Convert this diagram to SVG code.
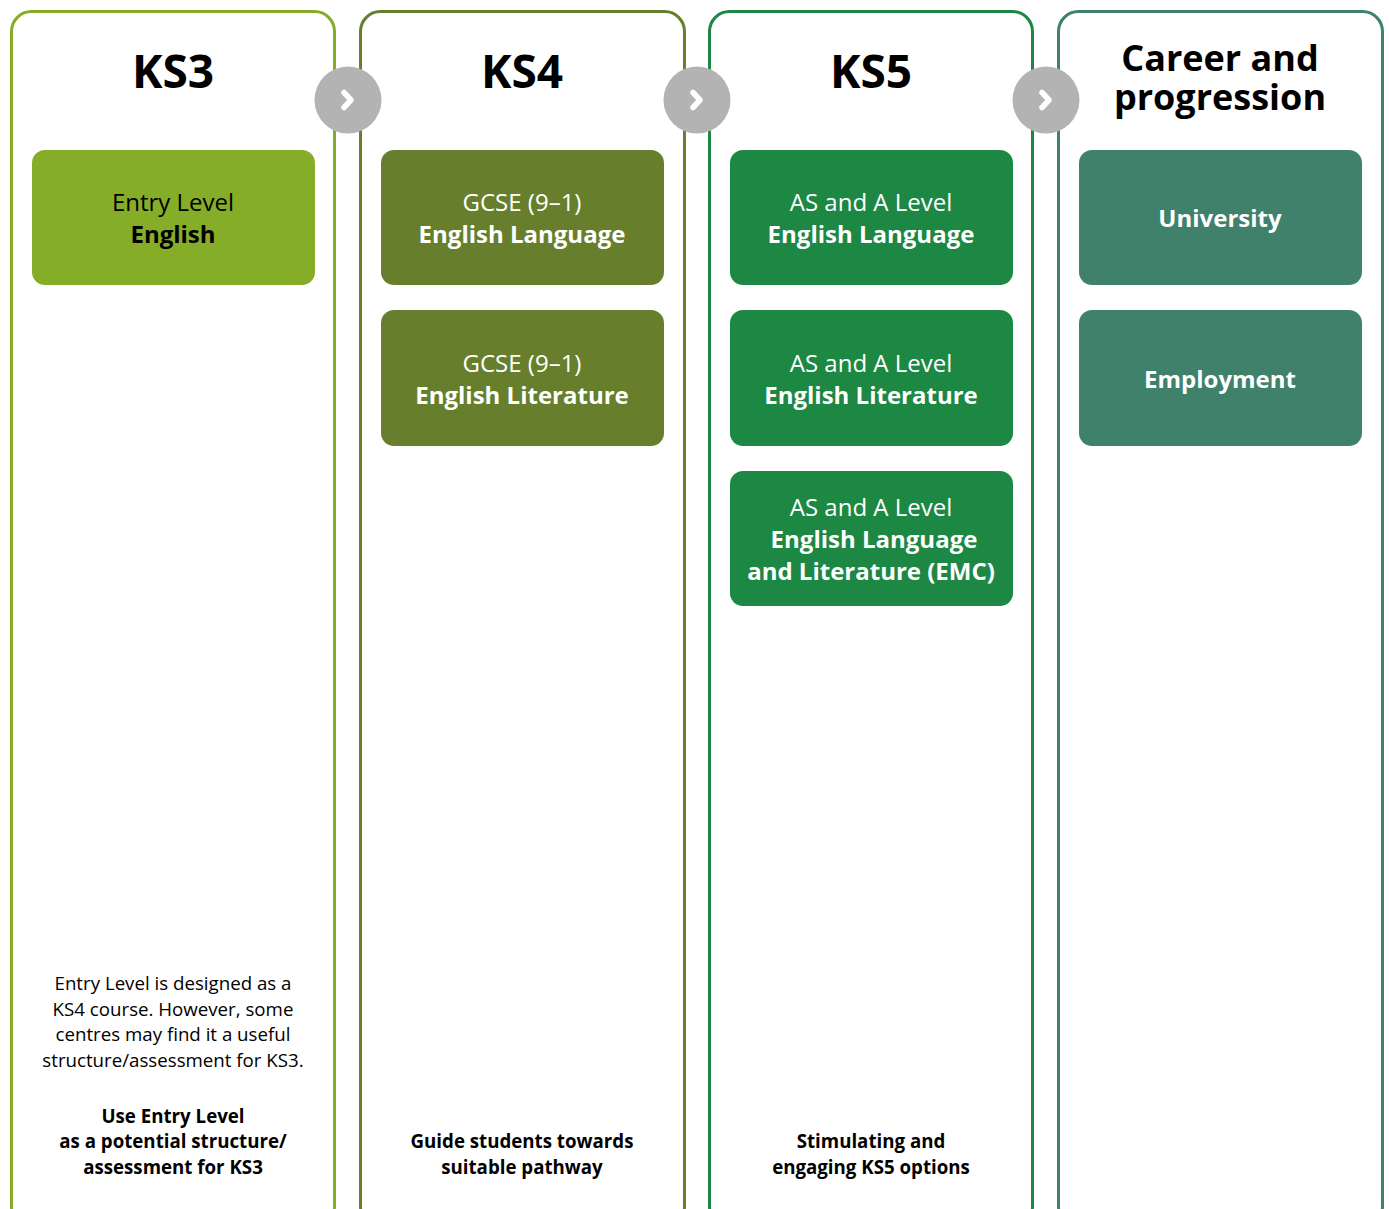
<svg xmlns="http://www.w3.org/2000/svg" width="1389" height="1209" viewBox="0 0 1389 1209">
<defs>
<style>
.frame{fill:#fff;stroke-width:3}
.hdr{font-family:"Open Sans","Noto Sans",sans-serif;font-weight:700;fill:#000;text-anchor:middle}
.bx{font-family:"Open Sans","Noto Sans",sans-serif;font-size:24px;text-anchor:middle}
.b{font-weight:700}
.note{font-family:"Open Sans","Noto Sans",sans-serif;font-size:18.7px;fill:#000;text-anchor:middle}
.arrow circle{fill:#b3b3b3}
.arrow path{fill:none;stroke:#fff;stroke-width:5.5;stroke-linecap:round;stroke-linejoin:round}
</style>
</defs>
<g id="columns">
<rect class="frame" x="11.5" y="11.5" width="323" height="1215" rx="20" stroke="#86ad28"/>
<rect class="frame" x="360.5" y="11.5" width="324" height="1215" rx="20" stroke="#677f2c"/>
<rect class="frame" x="709.5" y="11.5" width="323" height="1215" rx="20" stroke="#1d8744"/>
<rect class="frame" x="1058.5" y="11.5" width="324" height="1215" rx="20" stroke="#3f816b"/>
</g>
<g id="headers">
<text class="hdr" x="173" y="88" font-size="46">KS3</text>
<text class="hdr" x="522" y="88" font-size="46">KS4</text>
<text class="hdr" x="871" y="88" font-size="46">KS5</text>
<text class="hdr" font-size="36"><tspan x="1220" y="71">Career and</tspan><tspan x="1220" y="110">progression</tspan></text>
</g>
<g id="connectors">
<g class="arrow"><circle cx="348" cy="100" r="33.5"/><path d="M344 92.5 L351 100 L344 107.5"/></g>
<g class="arrow"><circle cx="697" cy="100" r="33.5"/><path d="M693 92.5 L700 100 L693 107.5"/></g>
<g class="arrow"><circle cx="1046" cy="100" r="33.5"/><path d="M1042 92.5 L1049 100 L1042 107.5"/></g>
</g>
<g id="node-entry-level">
<rect x="32" y="150" width="283" height="135" rx="13" fill="#86ad28"/>
<text class="bx" fill="#000"><tspan x="173" y="211">Entry Level</tspan><tspan class="b" x="173" y="243">English</tspan></text>
</g>
<g id="node-gcse-lang">
<rect x="381" y="150" width="283" height="135" rx="13" fill="#677f2c"/>
<text class="bx" fill="#fff"><tspan x="522" y="211">GCSE (9–1)</tspan><tspan class="b" x="522" y="243">English Language</tspan></text>
</g>
<g id="node-gcse-lit">
<rect x="381" y="310" width="283" height="136" rx="13" fill="#677f2c"/>
<text class="bx" fill="#fff"><tspan x="522" y="372">GCSE (9–1)</tspan><tspan class="b" x="522" y="404">English Literature</tspan></text>
</g>
<g id="node-as-lang">
<rect x="730" y="150" width="283" height="135" rx="13" fill="#1d8744"/>
<text class="bx" fill="#fff"><tspan x="871" y="211">AS and A Level</tspan><tspan class="b" x="871" y="243">English Language</tspan></text>
</g>
<g id="node-as-lit">
<rect x="730" y="310" width="283" height="136" rx="13" fill="#1d8744"/>
<text class="bx" fill="#fff"><tspan x="871" y="372">AS and A Level</tspan><tspan class="b" x="871" y="404">English Literature</tspan></text>
</g>
<g id="node-as-emc">
<rect x="730" y="471" width="283" height="135" rx="13" fill="#1d8744"/>
<text class="bx" fill="#fff"><tspan x="871" y="516">AS and A Level</tspan><tspan class="b" x="874" y="548">English Language</tspan><tspan class="b" x="871" y="580">and Literature (EMC)</tspan></text>
</g>
<g id="node-university">
<rect x="1079" y="150" width="283" height="135" rx="13" fill="#3f816b"/>
<text class="bx b" fill="#fff" x="1220" y="227">University</text>
</g>
<g id="node-employment">
<rect x="1079" y="310" width="283" height="136" rx="13" fill="#3f816b"/>
<text class="bx b" fill="#fff" x="1220" y="388">Employment</text>
</g>
<g id="notes">
<text class="note"><tspan x="173" y="990">Entry Level is designed as a</tspan><tspan x="173" y="1016">KS4 course. However, some</tspan><tspan x="173" y="1041">centres may find it a useful</tspan><tspan x="173" y="1067">structure/assessment for KS3.</tspan></text>
<text class="note b"><tspan x="173" y="1123">Use Entry Level</tspan><tspan x="173" y="1148">as a potential structure/</tspan><tspan x="173" y="1174">assessment for KS3</tspan></text>
<text class="note b"><tspan x="522" y="1148">Guide students towards</tspan><tspan x="522" y="1174">suitable pathway</tspan></text>
<text class="note b"><tspan x="871" y="1148">Stimulating and</tspan><tspan x="871" y="1174">engaging KS5 options</tspan></text>
</g>
</svg>
